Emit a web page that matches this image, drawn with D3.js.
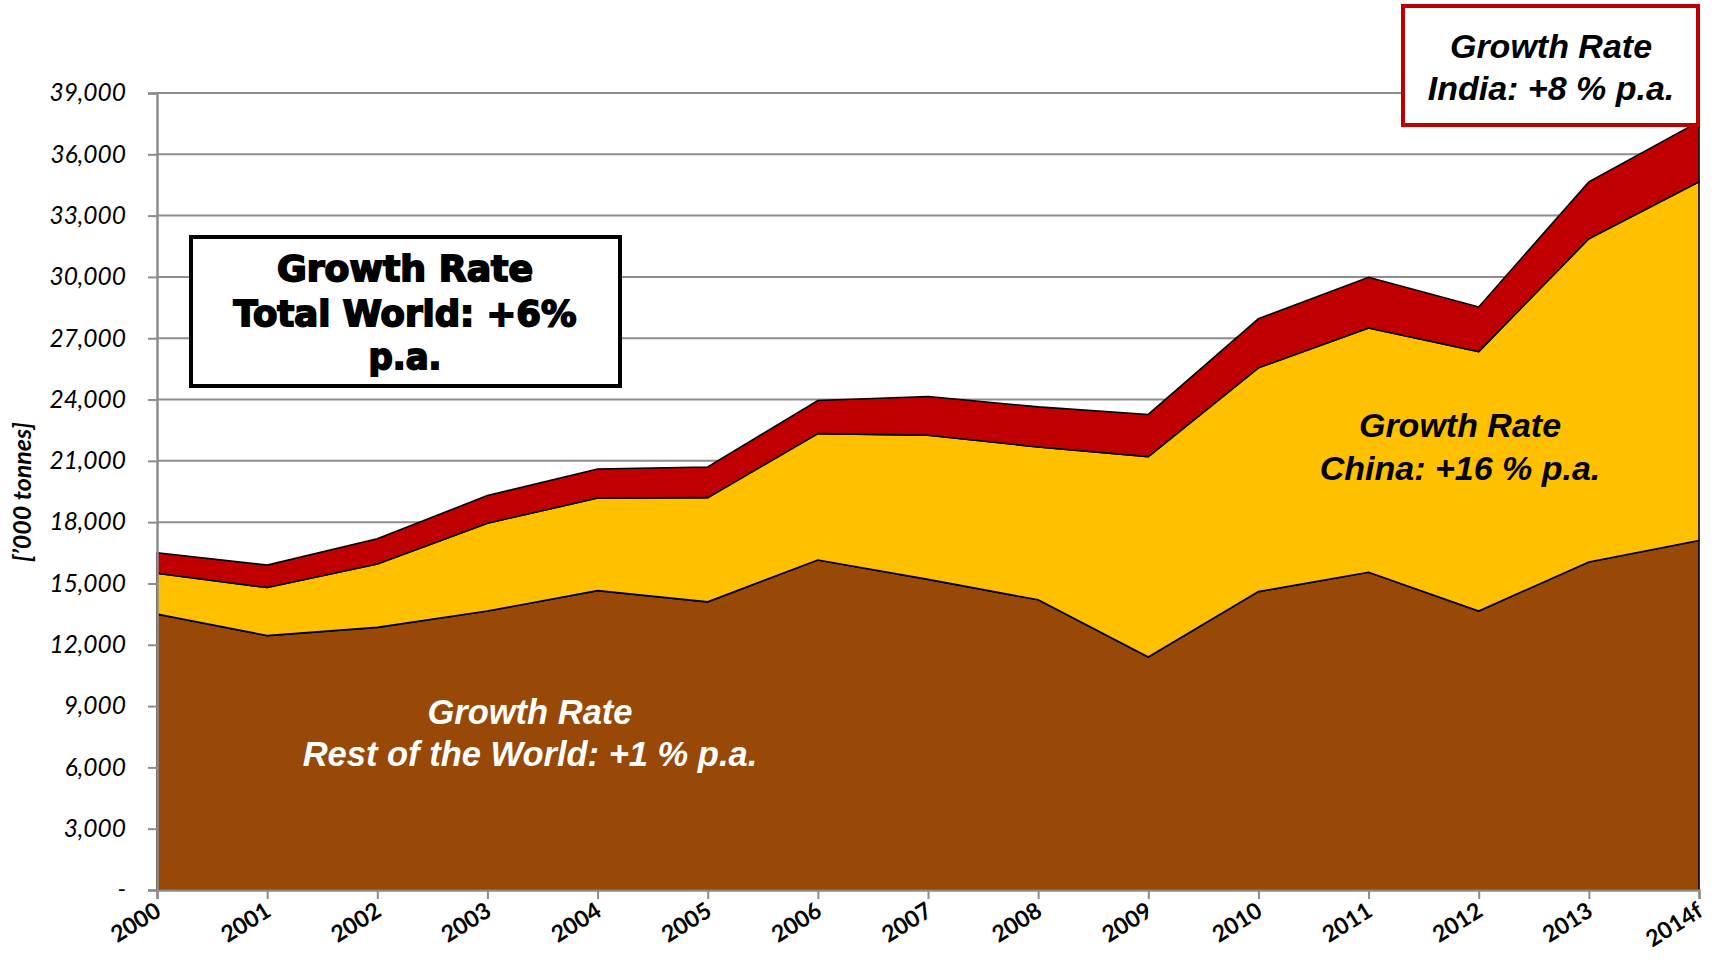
<!DOCTYPE html>
<html>
<head>
<meta charset="utf-8">
<script src="https://cdn.jsdelivr.net/npm/d3@7"></script>
<style>
  html, body { margin: 0; padding: 0; background: #fff; }
  svg { display: block; }
</style>
</head>
<body>
<svg id="chart" width="1715" height="961"></svg>
<script>
// ---- Data (thousand tonnes) ----
const years = ["2000","2001","2002","2003","2004","2005","2006","2007","2008","2009","2010","2011","2012","2013","2014f"];
const restOfWorld = [13500, 12450, 12850, 13650, 14650, 14100, 16150, 15200, 14200, 11400, 14600, 15550, 13650, 16050, 17100];
const china       = [2000, 2350, 3100, 4300, 4530, 5100, 6180, 7050, 7480, 9810, 10950, 11950, 12700, 15820, 17560];
const india       = [1000, 1100, 1240, 1350, 1420, 1500, 1620, 1900, 1960, 2060, 2400, 2480, 2180, 2780, 2940];
const yTicks = [0, 3000, 6000, 9000, 12000, 15000, 18000, 21000, 24000, 27000, 30000, 33000, 36000, 39000];
const seriesKeys = ["Rest of the World", "China", "India"];
const seriesColors = ["#984807", "#FFC000", "#C00000"];

const table = years.map((yr, i) => ({
  year: yr,
  "Rest of the World": restOfWorld[i],
  "China": china[i],
  "India": india[i]
}));

(function () {
const svg = d3.select("#chart");
const mLeft = 157, mRight = 1699, mTop = 93, mBottom = 890;

const x = d3.scalePoint().domain(years).range([mLeft, mRight]).padding(0);
const y = d3.scaleLinear().domain([0, 39000]).range([mBottom, mTop]);

// gridlines
svg.append("g").selectAll("line").data(yTicks.filter(d => d > 0)).join("line")
  .attr("x1", mLeft).attr("x2", mRight)
  .attr("y1", d => y(d)).attr("y2", d => y(d))
  .attr("stroke", "#8c8c8c").attr("stroke-width", 2);

// stacked areas
const layers = d3.stack().keys(seriesKeys)(table);
const area = d3.area()
  .x(d => x(d.data.year))
  .y0(d => y(d[0]))
  .y1(d => y(d[1]));

svg.append("g").selectAll("path").data(layers).join("path")
  .attr("d", area)
  .attr("fill", (d, i) => seriesColors[i])
  .attr("stroke", "#000")
  .attr("stroke-width", 1.6)
  .attr("stroke-linejoin", "miter");

// y axis
const yAxis = d3.axisLeft(y).tickValues(yTicks).tickSize(9).tickPadding(22)
  .tickFormat(d => d === 0 ? "-" : d3.format(",")(d));
const gy = svg.append("g").attr("transform", `translate(${mLeft},0)`).call(yAxis);
gy.select(".domain").attr("stroke", "#8c8c8c").attr("stroke-width", 2.5);
gy.selectAll(".tick line").attr("stroke", "#8c8c8c").attr("stroke-width", 2);
gy.selectAll(".tick text")
  .attr("font-family", "Lato, 'Open Sans', sans-serif")
  .attr("font-style", "italic")
  .attr("font-size", 24.5)
  .attr("fill", "#000");

// x axis
const xAxis = d3.axisBottom(x).tickSize(9).tickPadding(0);
const gx = svg.append("g").attr("transform", `translate(0,${mBottom})`).call(xAxis);
gx.select(".domain").attr("stroke", "#8c8c8c").attr("stroke-width", 2.5);
gx.selectAll(".tick line").attr("stroke", "#8c8c8c").attr("stroke-width", 2);
gx.selectAll(".tick text")
  .attr("font-family", "Lato, 'Open Sans', sans-serif")
  .attr("font-weight", "bold")
  .attr("font-size", 23)
  .attr("fill", "#000")
  .attr("text-anchor", "end")
  .attr("dy", null)
  .attr("y", null)
  .attr("transform", "translate(5,25) rotate(-32)");

// y axis title
svg.append("text")
  .attr("transform", "translate(31,492) rotate(-90)")
  .attr("text-anchor", "middle")
  .attr("font-family", "Lato, 'Open Sans', sans-serif")
  .attr("font-weight", "bold")
  .attr("font-style", "italic")
  .attr("font-size", 25)
  .text("[\u2019000 tonnes]");

// ---- Annotations ----
svg.append("rect")
  .attr("x", 191).attr("y", 237).attr("width", 429).attr("height", 149)
  .attr("fill", "#fff").attr("stroke", "#000").attr("stroke-width", 4);
const worldLines = [["Growth Rate", 281, 256], ["Total World: +6%", 326, 343], ["p.a.", 369, 73]];
worldLines.forEach(([t, yy, w]) => {
  svg.append("text")
    .attr("x", 405).attr("y", yy)
    .attr("text-anchor", "middle")
    .attr("font-family", "'DejaVu Sans', Roboto, sans-serif")
    .attr("font-weight", 900)
    .attr("font-size", 35)
    .attr("textLength", w)
    .attr("lengthAdjust", "spacingAndGlyphs")
    .attr("stroke", "#000").attr("stroke-width", 1.8)
    .text(t);
});

svg.append("rect")
  .attr("x", 1403).attr("y", 6).attr("width", 295).attr("height", 119)
  .attr("fill", "#fff").attr("stroke", "#C00000").attr("stroke-width", 4);
[["Growth Rate", 58], ["India: +8 % p.a.", 100]].forEach(([t, yy]) => {
  svg.append("text")
    .attr("x", 1551).attr("y", yy)
    .attr("text-anchor", "middle")
    .attr("font-family", "'Liberation Sans', Arial, sans-serif")
    .attr("font-weight", "bold").attr("font-style", "italic")
    .attr("font-size", 34)
    .text(t);
});

[["Growth Rate", 437], ["China: +16 % p.a.", 480]].forEach(([t, yy]) => {
  svg.append("text")
    .attr("x", 1460).attr("y", yy)
    .attr("text-anchor", "middle")
    .attr("font-family", "'Liberation Sans', Arial, sans-serif")
    .attr("font-weight", "bold").attr("font-style", "italic")
    .attr("font-size", 34)
    .text(t);
});

[["Growth Rate", 724], ["Rest of the World: +1 % p.a.", 766]].forEach(([t, yy]) => {
  svg.append("text")
    .attr("x", 530).attr("y", yy)
    .attr("text-anchor", "middle")
    .attr("font-family", "'Liberation Sans', Arial, sans-serif")
    .attr("font-weight", "bold").attr("font-style", "italic")
    .attr("font-size", 34.5)
    .attr("fill", "#fff")
    .text(t);
});
})();
</script>
</body>
</html>
